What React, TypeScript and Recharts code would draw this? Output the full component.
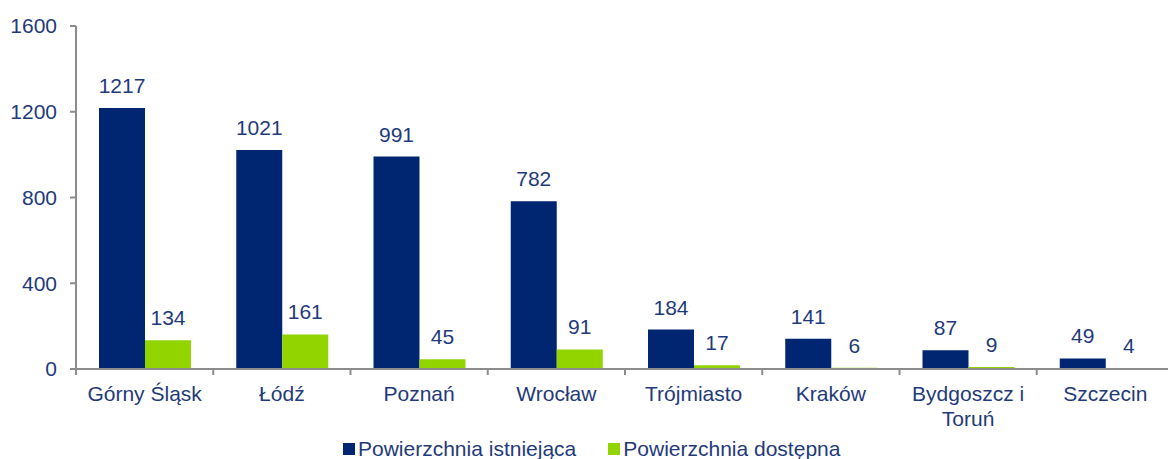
import { Bar, BarChart, LabelList, Legend, XAxis, YAxis } from "recharts";

const cities = [
  "Górny Śląsk",
  "Łódź",
  "Poznań",
  "Wrocław",
  "Trójmiasto",
  "Kraków",
  "Bydgoszcz i Toruń",
  "Szczecin",
];
const existing = [1217, 1021, 991, 782, 184, 141, 87, 49];
const available = [134, 161, 45, 91, 17, 6, 9, 4];
const yTicks = [0, 400, 800, 1200, 1600];
const seriesOrder = ["existing", "available"];

const data = cities.map((city, i) => ({
  city,
  existing: existing[i],
  available: available[i],
}));

const NAVY = "#002672";
const GREEN = "#92D400";
const TEXT = "#1F3A7A";
const AXIS = "#8c8c8c";
const FONT = "'Liberation Sans', Arial, sans-serif";

const CHART_W = 1174;
const CHART_H = 459;
const Y_AXIS_W = 76;
const BAND = (CHART_W - Y_AXIS_W) / cities.length;

// crude word wrap, the category is ~12 chars wide at this font size
function wrap(label: string, max = 12) {
  const lines: string[] = [];
  let cur = "";
  for (const w of label.split(" ")) {
    const next = cur ? cur + " " + w : w;
    if (next.length > max && cur) {
      lines.push(cur);
      cur = w;
    } else {
      cur = next;
    }
  }
  if (cur) lines.push(cur);
  return lines;
}

function CityTick(props: any) {
  const { x, y, payload } = props;
  const lines = wrap(String(payload.value));
  return (
    <g>
      <line x1={x - BAND / 2} x2={x - BAND / 2} y1={y - 8} y2={y - 2} stroke={AXIS} strokeWidth={2} />
      <text x={x} y={y} textAnchor="middle" fill={TEXT} fontSize={21} fontFamily={FONT}>
        {lines.map((l, i) => (
          <tspan key={i} x={x} dy={i === 0 ? 24 : 25}>
            {l}
          </tspan>
        ))}
      </text>
    </g>
  );
}

function LegendBox(props: any) {
  const items = [...(props.payload || [])].sort(
    (a: any, b: any) => seriesOrder.indexOf(a.dataKey) - seriesOrder.indexOf(b.dataKey)
  );
  return (
    <div style={{ display: "flex", fontFamily: FONT, fontSize: 21, color: TEXT, lineHeight: "22px" }}>
      {items.map((item: any) => (
        <div key={item.value} style={{ display: "flex", alignItems: "center", marginRight: 32 }}>
          <span style={{ width: 12, height: 12, background: item.color, marginRight: 3, display: "inline-block" }} />
          <span>{item.value}</span>
        </div>
      ))}
    </div>
  );
}

export default function App() {
  return (
    <div style={{ position: "fixed", left: 0, top: 0, width: 1168, height: CHART_H, overflow: "hidden", background: "#fff" }}>
      <BarChart
        width={CHART_W}
        height={CHART_H}
        data={data}
        margin={{ top: 26, right: 0, bottom: 0, left: 0 }}
        barGap={0}
      >
        <XAxis
          dataKey="city"
          height={90}
          interval={0}
          axisLine={{ stroke: AXIS, strokeWidth: 2 }}
          tickLine={false}
          tickSize={6}
          tickMargin={2}
          tick={<CityTick />}
        />
        <YAxis
          width={Y_AXIS_W}
          domain={[0, 1600]}
          ticks={yTicks}
          interval={0}
          axisLine={{ stroke: AXIS, strokeWidth: 2 }}
          tickLine={{ stroke: AXIS, strokeWidth: 2 }}
          tickSize={6}
          tickMargin={13}
          tick={{ fill: TEXT, fontSize: 21, fontFamily: FONT }}
        />
        <Legend
          layout="horizontal"
          verticalAlign="middle"
          align="center"
          content={<LegendBox />}
          wrapperStyle={{ top: 438, left: 343, width: "auto" }}
        />
        <Bar dataKey="existing" name="Powierzchnia istniejąca" fill={NAVY} barSize={46} isAnimationActive={false}>
          <LabelList dataKey="existing" position="top" offset={15} fill={TEXT} fontSize={21} fontFamily={FONT} />
        </Bar>
        <Bar dataKey="available" name="Powierzchnia dostępna" fill={GREEN} barSize={46} isAnimationActive={false}>
          <LabelList dataKey="available" position="top" offset={15} fill={TEXT} fontSize={21} fontFamily={FONT} />
        </Bar>
      </BarChart>
    </div>
  );
}
